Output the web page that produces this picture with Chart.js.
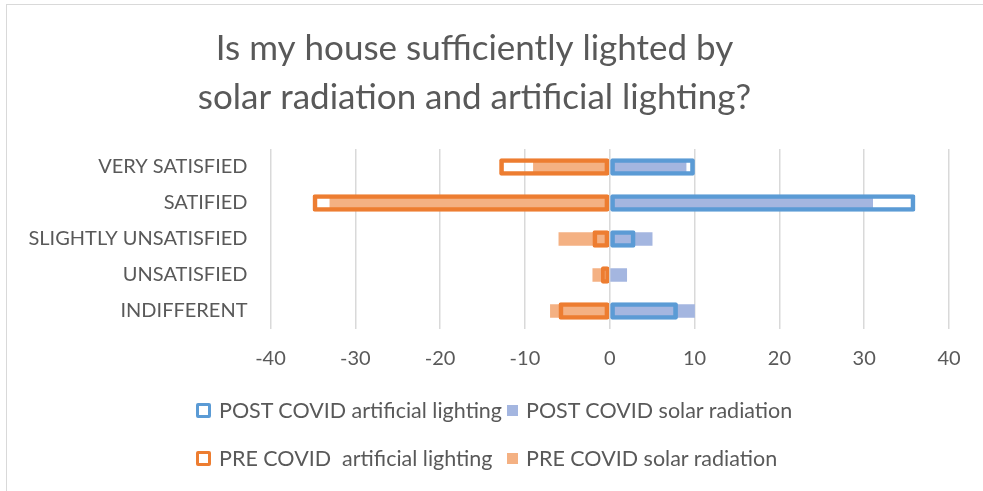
<!DOCTYPE html>
<html>
<head>
<meta charset="utf-8">
<script src="https://cdn.jsdelivr.net/npm/chart.js@4.4.1/dist/chart.umd.min.js"></script>
<style>
    html, body { margin: 0; padding: 0; background: #fff; }
    #wrap { position: relative; width: 983px; height: 491px; overflow: hidden; }
    #frame { position: absolute; left: 6px; top: 4px; width: 1000px; height: 520px; border: 1px solid #d9d9d9; box-sizing: border-box; }
    #chart { position: absolute; left: 0; top: 0; }
    .legend-row { position: absolute; left: 196px; display: flex; align-items: center;
        font-family: Lato, 'Open Sans', sans-serif; font-size: 21.5px; color: #595959; white-space: pre; line-height: 26px; }
    .legend-item { display: flex; align-items: center; }
    .legend-item.first { width: 311px; }
    .box { display: inline-block; box-sizing: border-box; margin-right: 8px; }
</style>
</head>
<body>
<div id="wrap">
    <div id="frame"></div>
    <canvas id="chart" width="983" height="491"></canvas>
    <div class="legend-row" id="legendRow1" style="top: 397px;"></div>
    <div class="legend-row" id="legendRow2" style="top: 445px;"></div>
</div>
<script>
const categories = ['VERY SATISFIED', 'SATIFIED', 'SLIGHTLY UNSATISFIED', 'UNSATISFIED', 'INDIFFERENT'];
const postArtificial = [10, 36, 3, 0, 8];
const postSolar = [9, 31, 5, 2, 10];
const preArtificial = [-13, -35, -2, -1, -6];
const preSolar = [-9, -33, -6, -2, -7];
const xTicks = [-40, -30, -20, -10, 0, 10, 20, 30, 40];

const seriesNames = ['POST COVID artificial lighting', 'POST COVID solar radiation', 'PRE COVID  artificial lighting', 'PRE COVID solar radiation'];

const blue = '#5b9bd5';
const blueLight = '#a4b6e0';
const orange = '#ed7d31';
const orangeLight = '#f4b183';
const textColor = '#595959';

// line at zero drawn over the bars, like the excel axis
const zeroLine = {
    id: 'zeroLine',
    afterDatasetsDraw(chart) {
        const x = chart.scales.x.getPixelForValue(0);
        const area = chart.chartArea;
        const ctx = chart.ctx;
        ctx.save();
        ctx.strokeStyle = 'rgba(217,217,217,0.8)';
        ctx.lineWidth = 1;
        ctx.beginPath();
        ctx.moveTo(x, area.top);
        ctx.lineTo(x, area.bottom);
        ctx.stroke();
        ctx.restore();
    }
};

const chart = new Chart(document.getElementById('chart'), {
    type: 'bar',
    data: {
        labels: categories,
        datasets: [
            {
                label: seriesNames[0],
                data: postArtificial,
                backgroundColor: 'rgba(255,255,255,0)',
                borderColor: blue,
                borderWidth: 4,
                borderSkipped: false,
                borderRadius: 2,
                barThickness: 17
            },
            {
                label: seriesNames[1],
                data: postSolar,
                backgroundColor: blueLight,
                borderWidth: 0,
                barThickness: 13
            },
            {
                label: seriesNames[2],
                data: preArtificial,
                backgroundColor: 'rgba(255,255,255,0)',
                borderColor: orange,
                borderWidth: 4,
                borderSkipped: false,
                borderRadius: 2,
                barThickness: 17
            },
            {
                label: seriesNames[3],
                data: preSolar,
                backgroundColor: orangeLight,
                borderWidth: 0,
                barThickness: 13
            }
        ]
    },
    options: {
        indexAxis: 'y',
        responsive: false,
        animation: false,
        grouped: false,
        layout: {
            padding: { left: 0, right: 34, top: 0, bottom: 102 }
        },
        plugins: {
            legend: { display: false },
            tooltip: { enabled: false },
            title: {
                display: true,
                text: ['Is my house sufficiently lighted by', 'solar radiation and artificial lighting?'],
                color: textColor,
                font: { family: 'Lato', size: 35, weight: 'normal', lineHeight: 1.4 },
                padding: { top: 24, bottom: 27 }
            }
        },
        scales: {
            x: {
                min: -40,
                max: 40,
                afterBuildTicks: function(scale) {
                    scale.ticks = xTicks.map(v => ({ value: v }));
                },
                grid: { color: '#d9d9d9', lineWidth: 1.5, drawTicks: false },
                border: { display: false },
                ticks: {
                    color: textColor,
                    font: { family: 'Lato', size: 20 },
                    padding: 18,
                    maxRotation: 0
                }
            },
            y: {
                grid: { display: false, drawTicks: false },
                border: { display: false },
                ticks: {
                    color: textColor,
                    font: { family: 'Lato', size: 20 },
                    padding: 23
                },
                afterFit: function(scale) {
                    scale.width = 270.5;
                }
            }
        }
    },
    plugins: [zeroLine]
});

// legend in two rows, two columns like the original
function legendItem(i, hollow, color) {
    const item = document.createElement('span');
    item.className = 'legend-item' + (i % 2 === 0 ? ' first' : '');
    const box = document.createElement('span');
    box.className = 'box';
    if (hollow) {
        box.style.width = '15px';
        box.style.height = '15px';
        box.style.border = '3.5px solid ' + color;
        box.style.borderRadius = '2px';
    } else {
        box.style.width = '11px';
        box.style.height = '11px';
        box.style.background = color;
    }
    item.appendChild(box);
    item.appendChild(document.createTextNode(seriesNames[i]));
    return item;
}

const row1 = document.getElementById('legendRow1');
row1.appendChild(legendItem(0, true, blue));
row1.appendChild(legendItem(1, false, blueLight));
const row2 = document.getElementById('legendRow2');
row2.appendChild(legendItem(2, true, orange));
row2.appendChild(legendItem(3, false, orangeLight));
</script>
</body>
</html>
